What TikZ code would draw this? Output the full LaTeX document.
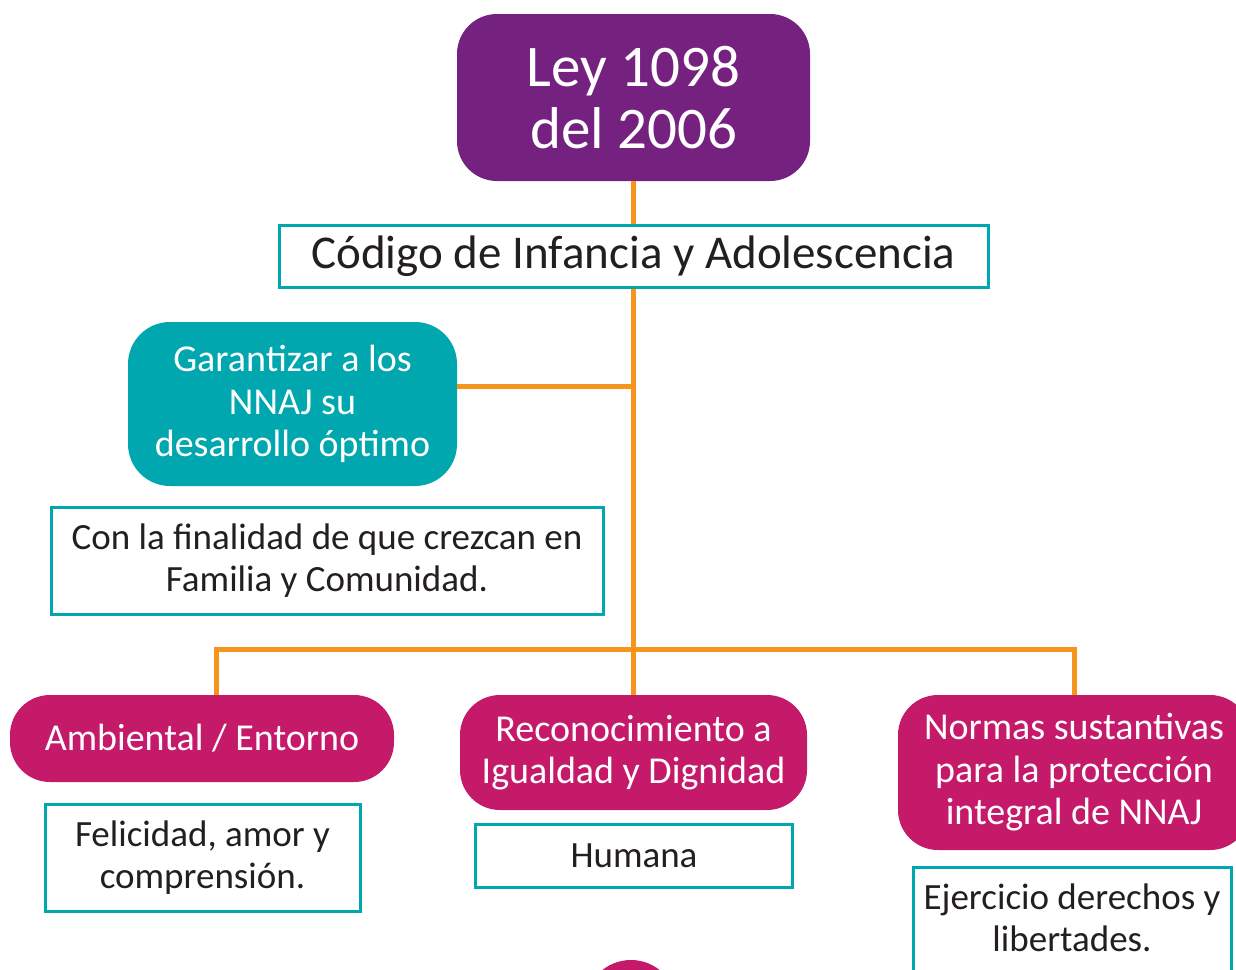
\documentclass[tikz,border=0pt]{standalone}
\usepackage{fontspec}
\setmainfont{Carlito}
\usepackage{xcolor}
\usepackage{tikz}
\usetikzlibrary{positioning}

\definecolor{leypurple}{HTML}{74217F}
\definecolor{nnajteal}{HTML}{00A7AF}
\definecolor{nnajpink}{HTML}{C41A69}
\definecolor{linkorange}{HTML}{F7941D}
\definecolor{textdark}{HTML}{231F20}

\tikzset{
  box/.style={inner sep=0pt, align=center, font=\fontsize{37}{42.5}\selectfont},
  titlebox/.style={box, fill=leypurple, text=white, rounded corners=40pt, font=\fontsize{59}{62}\selectfont},
  tealbox/.style={box, fill=nnajteal, text=white, rounded corners=42pt, font=\fontsize{38}{42.5}\selectfont},
  pinkbox/.style={box, fill=nnajpink, text=white, rounded corners=40pt, font=\fontsize{38}{42.5}\selectfont},
  notebox/.style={box, draw=nnajteal, line width=3pt, fill=white, text=textdark},
  link/.style={draw=linkorange, line width=5pt}
}

\begin{document}
\begin{tikzpicture}[x=1pt, y=-1pt]
    % Frame
    \useasboundingbox (0,0) rectangle (1236,969);
    \clip (0,0) rectangle (1236,969);

    % Title and code
    \node[titlebox, minimum width=353, minimum height=167] (ley) at (633.5,97.5) {Ley 1098\\del 2006};
    \node[notebox, minimum width=709, minimum height=62, font=\fontsize{47}{56}\selectfont] (codigo) at (633.5,256) {Código de Infancia y Adolescencia};

    % Purpose
    \node[tealbox, minimum width=329, minimum height=164] (garant) at (292.5,404) {Garantizar a los\\NNAJ su\\desarrollo óptimo};
    \node[notebox, minimum width=552, minimum height=107] (fin) at (327,560.5) {Con la finalidad de que crezcan en\\Familia y Comunidad.};

    % Branches
    \node[pinkbox, minimum width=384, minimum height=87] (amb) at (202,738.5) {Ambiental / Entorno};
    \node[notebox, minimum width=315, minimum height=107] (feli) at (202.5,857.5) {Felicidad, amor y\\comprensión.};

    \node[pinkbox, minimum width=347, minimum height=115] (reco) at (633.5,752.5) {Reconocimiento a\\Igualdad y Dignidad};
    \node[notebox, minimum width=317, minimum height=63] (humana) at (634,856) {Humana};

    \node[pinkbox, minimum width=352, minimum height=155] (normas) at (1074,772.5) {Normas sustantivas\\para la protección\\integral de NNAJ};
    \node[notebox, minimum width=318, minimum height=112, text depth=12pt, anchor=north] (ejer) at (1072,866) {Ejercicio derechos y\\libertades.};

    % Next item (cut off)
    \fill[nnajpink] (631,1006) circle (46);

    % Connectors
    \draw[link] (ley) -- (codigo);
    \draw[link] (codigo) -- (reco);
    \draw[link] ([yshift=18pt]garant.east) coordinate (g) -- (g -| codigo.south);
    \coordinate (busL) at (216,649);
    \draw[link] (busL |- amb.north) -- (busL) -| (normas.north);
\end{tikzpicture}
\end{document}
